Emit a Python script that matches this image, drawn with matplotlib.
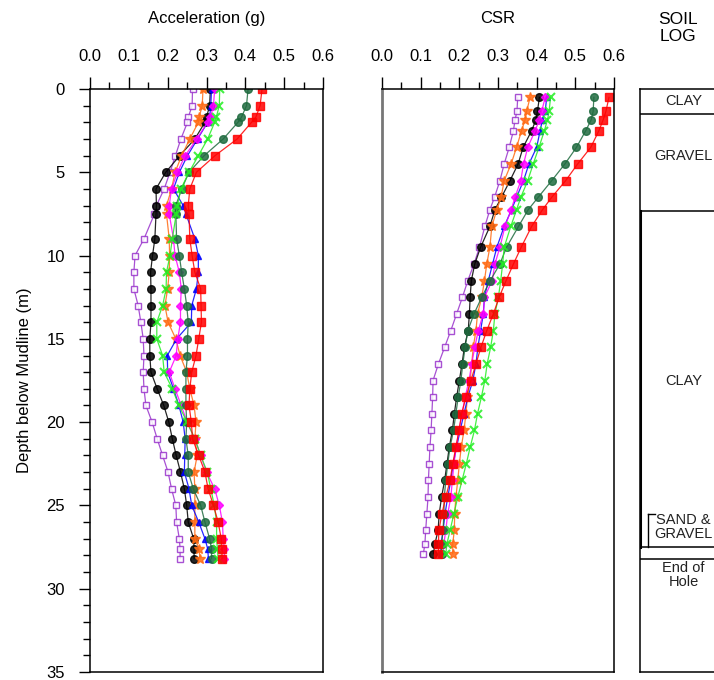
import numpy as np
import matplotlib
matplotlib.use("Agg")
from matplotlib import pyplot as plt
from matplotlib.ticker import MultipleLocator, FormatStrFormatter

plt.rcParams['font.family'] = ['Liberation Sans', 'DejaVu Sans']

# depths (m) where acceleration is reported (layer boundaries)
acc_depth = [0, 1, 1.7, 2, 3, 4, 5, 6, 7, 7.5, 9, 10, 11, 12, 13, 14, 15, 16, 17, 18,
             19, 20, 21, 22, 23, 24, 25, 26, 27, 27.6, 28.2]
# depths (m) where CSR is reported (layer mid points)
csr_depth = [0.5, 1.35, 1.85, 2.5, 3.5, 4.5, 5.5, 6.5, 7.25, 8.25, 9.5, 10.5, 11.5, 12.5,
             13.5, 14.5, 15.5, 16.5, 17.5, 18.5, 19.5, 20.5, 21.5, 22.5, 23.5, 24.5, 25.5,
             26.5, 27.3, 27.9]

acc_purple = [0.264, 0.263, 0.253, 0.251, 0.234, 0.220, 0.206, 0.191, 0.171, 0.166, 0.139,
              0.116, 0.113, 0.113, 0.124, 0.131, 0.137, 0.139, 0.137, 0.139, 0.144, 0.160,
              0.173, 0.187, 0.201, 0.210, 0.221, 0.223, 0.230, 0.232, 0.232]
acc_orange = [0.291, 0.289, 0.281, 0.279, 0.257, 0.236, 0.219, 0.210, 0.197, 0.197, 0.204,
              0.205, 0.204, 0.200, 0.193, 0.201, 0.221, 0.232, 0.249, 0.257, 0.268, 0.273,
              0.270, 0.276, 0.268, 0.270, 0.270, 0.270, 0.270, 0.281, 0.283]
acc_black = [0.310, 0.308, 0.300, 0.296, 0.270, 0.231, 0.195, 0.170, 0.171, 0.170, 0.167,
             0.161, 0.156, 0.157, 0.157, 0.157, 0.154, 0.154, 0.157, 0.173, 0.190, 0.203,
             0.212, 0.222, 0.233, 0.243, 0.249, 0.253, 0.267, 0.268, 0.268]
acc_blue = [0.313, 0.311, 0.308, 0.303, 0.277, 0.251, 0.230, 0.215, 0.240, 0.247, 0.270,
            0.279, 0.279, 0.274, 0.262, 0.261, 0.223, 0.199, 0.200, 0.215, 0.229, 0.240,
            0.245, 0.244, 0.243, 0.255, 0.262, 0.280, 0.296, 0.303, 0.305]
acc_magenta = [0.321, 0.318, 0.310, 0.303, 0.275, 0.245, 0.225, 0.210, 0.204, 0.204, 0.215,
               0.219, 0.230, 0.235, 0.233, 0.233, 0.226, 0.222, 0.204, 0.219, 0.235, 0.250,
               0.270, 0.285, 0.300, 0.321, 0.333, 0.341, 0.343, 0.346, 0.346]
acc_green = [0.334, 0.333, 0.325, 0.321, 0.303, 0.279, 0.255, 0.234, 0.225, 0.222, 0.212,
             0.206, 0.197, 0.196, 0.187, 0.172, 0.172, 0.187, 0.191, 0.212, 0.229, 0.250,
             0.270, 0.285, 0.302, 0.311, 0.320, 0.326, 0.326, 0.328, 0.330]
acc_dkgreen = [0.407, 0.403, 0.390, 0.381, 0.343, 0.294, 0.255, 0.236, 0.221, 0.221, 0.223,
               0.230, 0.236, 0.243, 0.249, 0.253, 0.251, 0.251, 0.247, 0.247, 0.247, 0.249,
               0.247, 0.253, 0.253, 0.266, 0.285, 0.296, 0.308, 0.313, 0.313]
acc_red = [0.443, 0.438, 0.427, 0.416, 0.379, 0.322, 0.274, 0.257, 0.253, 0.255, 0.257,
           0.263, 0.270, 0.285, 0.286, 0.287, 0.280, 0.273, 0.262, 0.257, 0.255, 0.261,
           0.264, 0.280, 0.296, 0.304, 0.318, 0.330, 0.338, 0.340, 0.340]

csr_purple = [0.351, 0.349, 0.344, 0.340, 0.329, 0.316, 0.305, 0.291, 0.279, 0.266, 0.252,
              0.238, 0.222, 0.208, 0.193, 0.178, 0.162, 0.146, 0.132, 0.131, 0.129, 0.127,
              0.124, 0.122, 0.120, 0.119, 0.116, 0.113, 0.111, 0.107]
csr_orange = [0.383, 0.374, 0.370, 0.361, 0.348, 0.334, 0.316, 0.308, 0.297, 0.284, 0.279,
              0.271, 0.265, 0.258, 0.247, 0.243, 0.236, 0.232, 0.228, 0.221, 0.217, 0.212,
              0.205, 0.200, 0.196, 0.191, 0.188, 0.187, 0.183, 0.183]
csr_black = [0.407, 0.402, 0.398, 0.387, 0.365, 0.352, 0.331, 0.309, 0.292, 0.279, 0.255,
             0.240, 0.231, 0.228, 0.226, 0.223, 0.213, 0.207, 0.200, 0.193, 0.187, 0.182,
             0.174, 0.168, 0.162, 0.154, 0.148, 0.145, 0.137, 0.133]
csr_blue = [0.426, 0.422, 0.415, 0.409, 0.400, 0.380, 0.366, 0.348, 0.335, 0.316, 0.297,
            0.286, 0.275, 0.265, 0.262, 0.255, 0.248, 0.243, 0.235, 0.222, 0.212, 0.202,
            0.193, 0.184, 0.178, 0.170, 0.163, 0.158, 0.153, 0.152]
csr_magenta = [0.422, 0.413, 0.407, 0.396, 0.377, 0.366, 0.359, 0.344, 0.334, 0.318, 0.305,
               0.292, 0.285, 0.265, 0.262, 0.249, 0.240, 0.232, 0.225, 0.215, 0.207, 0.199,
               0.192, 0.186, 0.182, 0.178, 0.170, 0.165, 0.160, 0.158]
csr_green = [0.436, 0.432, 0.428, 0.420, 0.406, 0.391, 0.377, 0.359, 0.348, 0.333, 0.316,
             0.312, 0.307, 0.301, 0.292, 0.288, 0.281, 0.272, 0.266, 0.257, 0.247, 0.239,
             0.228, 0.218, 0.207, 0.196, 0.186, 0.176, 0.168, 0.165]
csr_dkgreen = [0.548, 0.546, 0.541, 0.527, 0.503, 0.473, 0.439, 0.404, 0.378, 0.353, 0.322,
               0.305, 0.280, 0.258, 0.238, 0.222, 0.215, 0.209, 0.204, 0.197, 0.191, 0.185,
               0.176, 0.170, 0.165, 0.161, 0.160, 0.158, 0.154, 0.154]
csr_red = [0.587, 0.579, 0.572, 0.561, 0.540, 0.506, 0.475, 0.439, 0.415, 0.387, 0.360,
           0.340, 0.321, 0.303, 0.288, 0.271, 0.256, 0.243, 0.230, 0.217, 0.206, 0.199,
           0.191, 0.183, 0.176, 0.165, 0.155, 0.147, 0.146, 0.146]

# soil log: layer boundaries (m) and labels
soil_bounds = [1.5, 7.3, 27.5, 28.2]
soil_labels = ["CLAY", "GRAVEL", "CLAY", "SAND &\nGRAVEL", "End of\nHole"]
soil_label_depth = [0.75, 4.0, 17.5, 26.3, 29.2]

# (acc, csr, colour, marker, size, filled)
series = [
    (acc_purple, csr_purple, '#9933CC', 's', 5, False),
    (acc_black, csr_black, 'black', 'o', 5.5, True),
    (acc_orange, csr_orange, '#FF6A13', '*', 7, True),
    (acc_blue, csr_blue, '#0000FF', '^', 5, True),
    (acc_magenta, csr_magenta, '#FF00FF', 'D', 4.5, True),
    (acc_dkgreen, csr_dkgreen, '#1F6B3F', 'o', 5.5, True),
    (acc_green, csr_green, '#22EE22', 'x', 5.5, True),
    (acc_red, csr_red, '#FF0000', 's', 5.5, True),
]

fig = plt.figure(figsize=(7.14, 6.8), dpi=100)
ax1 = fig.add_axes([90 / 714, 8 / 680, 233 / 714, 583 / 680])
ax2 = fig.add_axes([382 / 714, 8 / 680, 232 / 714, 583 / 680])
ax3 = fig.add_axes([640 / 714, 8 / 680, 150 / 714, 583 / 680])


def style_axis(ax, title):
    ax.set_xlim(0, 0.6)
    ax.set_ylim(35, 0)
    ax.xaxis.tick_top()
    ax.xaxis.set_label_position('top')
    ax.xaxis.set_major_locator(MultipleLocator(0.1))
    ax.xaxis.set_minor_locator(MultipleLocator(0.05))
    ax.xaxis.set_major_formatter(FormatStrFormatter('%.1f'))
    ax.tick_params(axis='x', which='major', length=9, width=1, pad=9, labelsize=12)
    ax.tick_params(axis='x', which='minor', length=5, width=1)
    ax.set_xlabel(title, fontsize=12, labelpad=19)
    for s in ax.spines.values():
        s.set_linewidth(1.1)


for acc, csr, col, mk, ms, filled in series:
    mfc = col if filled else 'white'
    mew = 1.5 if mk == 'x' else 1.0
    ax1.plot(acc, acc_depth, color=col, lw=0.9, marker=mk, ms=ms, mfc=mfc, mec=col,
             mew=mew, alpha=0.85)
    ax2.plot(csr, csr_depth, color=col, lw=0.9, marker=mk, ms=ms, mfc=mfc, mec=col,
             mew=mew, alpha=0.85)

style_axis(ax1, "Acceleration (g)")
ax1.yaxis.set_major_locator(MultipleLocator(5))
ax1.yaxis.set_minor_locator(MultipleLocator(1))
ax1.tick_params(axis='y', which='major', length=8, width=1, pad=10, labelsize=12)
ax1.tick_params(axis='y', which='minor', length=5, width=1)
ax1.set_ylabel("Depth below Mudline (m)", fontsize=12, labelpad=10)

style_axis(ax2, "CSR")
ax2.tick_params(axis='y', which='both', left=False, labelleft=False)
ax2.spines['left'].set_color('#777777')
ax2.spines['left'].set_linewidth(2)

# soil log column
ax3.set_xlim(0, 1)
ax3.set_ylim(35, 0)
ax3.set_xticks([])
ax3.set_yticks([])
for s in ax3.spines.values():
    s.set_linewidth(1.1)
for b in soil_bounds:
    ax3.axhline(b, color='black', lw=1.1)
ax3.plot([0.0, 0.0], [7.3, 27.5], color='black', lw=2.2)
ax3.plot([0.05, 0.1], [25.5, 25.5], color='black', lw=1)
ax3.plot([0.05, 0.05], [25.5, 27.5], color='black', lw=1)
for lab, d in zip(soil_labels, soil_label_depth):
    ax3.text(0.29, d, lab, ha='center', va='center', fontsize=10.5,
             linespacing=1.0, color='#222222')
fig.text(678 / 714, 1 - 28 / 680, "SOIL\nLOG", ha='center', va='center',
         fontsize=12.5, linespacing=1.1)

fig.savefig("out.png", dpi=100)
